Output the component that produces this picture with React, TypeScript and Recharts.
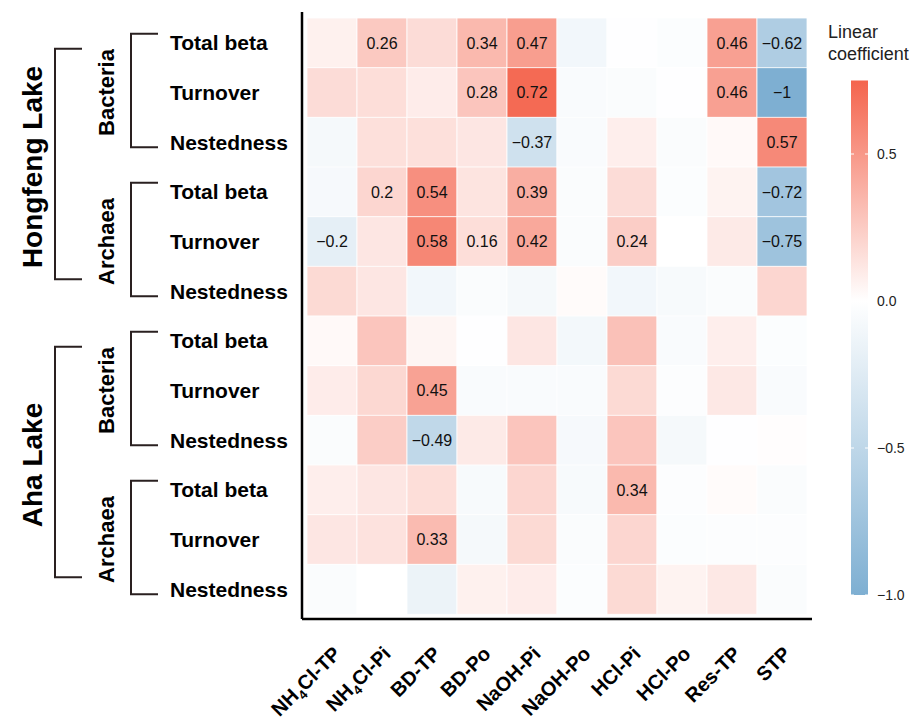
import React from 'react';
import { BarChart, Bar, XAxis, YAxis, Cell, LabelList } from 'recharts';

const columns = ['NH4Cl-TP', 'NH4Cl-Pi', 'BD-TP', 'BD-Po', 'NaOH-Pi', 'NaOH-Po', 'HCl-Pi', 'HCl-Po', 'Res-TP', 'STP'];
const rowIds = ['r0', 'r1', 'r2', 'r3', 'r4', 'r5', 'r6', 'r7', 'r8', 'r9', 'r10', 'r11'];
const rowLabels = ['Total beta', 'Turnover', 'Nestedness'];
const taxa = ['Bacteria', 'Archaea'];
const lakes = ['Hongfeng Lake', 'Aha Lake'];

const hongfengBacteria = [
    [0.07, 0.26, 0.17, 0.34, 0.47, -0.1, -0.01, -0.03, 0.46, -0.62],
    [0.17, 0.16, 0.09, 0.28, 0.72, -0.05, -0.04, -0.01, 0.46, -1],
    [-0.08, 0.15, 0.15, 0.12, -0.37, -0.05, 0.08, -0.04, 0.03, 0.57],
];
const hongfengArchaea = [
    [-0.07, 0.2, 0.54, 0.13, 0.39, -0.04, 0.17, -0.03, 0.06, -0.72],
    [-0.2, 0.12, 0.58, 0.16, 0.42, -0.04, 0.24, 0, 0.1, -0.75],
    [0.18, 0.12, -0.1, -0.04, -0.08, 0.02, -0.1, -0.06, -0.04, 0.2],
];
const ahaBacteria = [
    [0.03, 0.28, 0.05, -0.01, 0.12, -0.09, 0.3, -0.05, 0.08, -0.03],
    [0.09, 0.19, 0.45, -0.05, -0.05, -0.05, 0.18, -0.02, 0.11, -0.05],
    [-0.04, 0.24, -0.49, 0.1, 0.28, -0.07, 0.28, -0.08, -0.01, 0.01],
];
const ahaArchaea = [
    [0.08, 0.12, 0.16, -0.06, 0.2, -0.06, 0.34, -0.02, 0.02, -0.04],
    [0.12, 0.14, 0.33, -0.08, 0.18, -0.04, 0.2, -0.03, -0.02, -0.02],
    [-0.04, 0, -0.15, 0.07, 0.09, -0.03, 0.18, 0.06, 0.11, -0.04],
];

// 1 = coefficient printed in the cell
const significant = [
    [0, 1, 0, 1, 1, 0, 0, 0, 1, 1],
    [0, 0, 0, 1, 1, 0, 0, 0, 1, 1],
    [0, 0, 0, 0, 1, 0, 0, 0, 0, 1],
    [0, 1, 1, 0, 1, 0, 0, 0, 0, 1],
    [1, 0, 1, 1, 1, 0, 1, 0, 0, 1],
    [0, 0, 0, 0, 0, 0, 0, 0, 0, 0],
    [0, 0, 0, 0, 0, 0, 0, 0, 0, 0],
    [0, 0, 1, 0, 0, 0, 0, 0, 0, 0],
    [0, 0, 1, 0, 0, 0, 0, 0, 0, 0],
    [0, 0, 0, 0, 0, 0, 1, 0, 0, 0],
    [0, 0, 1, 0, 0, 0, 0, 0, 0, 0],
    [0, 0, 0, 0, 0, 0, 0, 0, 0, 0],
];

const legendTicks = [0.5, 0, -0.5, -1];
const legendTickLabels = ['0.5', '0.0', '\u22120.5', '\u22121.0'];
const legendLimits = [-1, 0.75];

const coef = [...hongfengBacteria, ...hongfengArchaea, ...ahaBacteria, ...ahaArchaea];
const vMax = Math.max(...coef.flat());
const vMin = Math.min(...coef.flat());

const HIGH = [244, 106, 84];
const LOW = [126, 175, 210];
const mix = (c: number[], t: number) =>
    `rgb(${c.map((k) => Math.max(0, Math.min(255, Math.round(255 + (k - 255) * t)))).join(',')})`;
const colorFor = (v: number) => (v >= 0 ? mix(HIGH, v / vMax) : mix(LOW, -v / -vMin));
const fmt = (v: number) => String(v).replace('-', '\u2212');

const table = rowIds.map((id) => {
    const row: Record<string, any> = { id };
    columns.forEach((_, c) => (row['c' + c] = 1));
    return row;
});

const FONT = '"Liberation Sans", Arial, sans-serif';
const W = 919;
const H = 725;
const MARGIN = { top: 12, right: 107, bottom: 6, left: 0 };
const PAD = { top: 6, bottom: 5 };
const STEP = (H - MARGIN.top - MARGIN.bottom - 100 - PAD.top - PAD.bottom) / rowIds.length;
const INK = '#2a2020';

const RowTick = (props: any) => {
    const { x, y, index } = props;
    const parts: React.ReactNode[] = [];
    parts.push(
        <text key="t" x={x - 132} y={y} dy="0.36em" textAnchor="start" fontSize={21} fontWeight="bold" fill="#000" fontFamily={FONT}>
            {rowLabels[index % 3]}
        </text>
    );
    if (index % 3 === 0) {
        const top = y - 9;
        const bot = y + 2 * STEP + 5;
        parts.push(
            <path key="b" d={`M${x - 144},${top}H${x - 171}V${bot}H${x - 144}`} fill="none" stroke={INK} strokeWidth={2} />,
            <text key="g" transform={`translate(${x - 196},${y + STEP}) rotate(-90)`} textAnchor="middle" dy="0.36em" fontSize={22} fontWeight="bold" fill="#000" fontFamily={FONT}>
                {taxa[Math.floor(index / 3) % 2]}
            </text>
        );
    }
    if (index % 6 === 0) {
        const top = y + 6;
        const bot = y + 5 * STEP - 12;
        parts.push(
            <path key="o" d={`M${x - 220},${top}H${x - 247}V${bot}H${x - 220}`} fill="none" stroke={INK} strokeWidth={2} />,
            <text key="l" transform={`translate(${x - 270},${y + 2.5 * STEP}) rotate(-90)`} textAnchor="middle" dy="0.36em" fontSize={28} fontWeight="bold" fill="#000" fontFamily={FONT}>
                {lakes[Math.floor(index / 6)]}
            </text>
        );
    }
    return <g>{parts}</g>;
};

const ColTick = (props: any) => {
    const { x, y, payload } = props;
    const name = columns[Math.round(payload.value - 0.5)] || '';
    const ax = x + 10;
    const ay = y + 28;
    const sub = name.startsWith('NH4');
    return (
        <text x={ax} y={ay} textAnchor="end" transform={`rotate(-45, ${ax}, ${ay})`} fontSize={20} fontWeight="bold" fill="#000" fontFamily={FONT}>
            {sub ? (
                <>
                    NH
                    <tspan fontSize={13} dy={5}>4</tspan>
                    <tspan dy={-5}>{name.slice(3)}</tspan>
                </>
            ) : (
                name
            )}
        </text>
    );
};

const cellLabel = (c: number) => (props: any) => {
    const { x, y, width, height, index } = props;
    if (!significant[index][c]) return null;
    return (
        <text x={x + width / 2} y={y + height / 2} dy="0.36em" textAnchor="middle" fontSize={16} fill="#111" fontFamily={FONT}>
            {fmt(coef[index][c])}
        </text>
    );
};

const ColorBar = () => {
    const zeroY = 301;
    const k = 294;
    const [lo, hi] = legendLimits;
    const top = zeroY - hi * k;
    const bot = zeroY - lo * k;
    const x0 = 851;
    const bw = 17;
    const zeroOff = hi / (hi - lo);
    return (
        <svg width={W} height={H} style={{ position: 'absolute', left: 0, top: 0, pointerEvents: 'none' }}>
            <defs>
                <linearGradient id="cbar" x1="0" y1="0" x2="0" y2="1">
                    <stop offset="0" stopColor={colorFor(hi)} />
                    <stop offset={zeroOff} stopColor="#ffffff" />
                    <stop offset="1" stopColor={colorFor(lo)} />
                </linearGradient>
            </defs>
            <text x={828} y={38} fontSize={18} fill="#222" fontFamily={FONT}>Linear</text>
            <text x={828} y={60} fontSize={18} fill="#222" fontFamily={FONT}>coefficient</text>
            <rect x={x0} y={top} width={bw} height={bot - top} fill="url(#cbar)" />
            {legendTicks.map((t, i) => {
                const ty = zeroY - t * k;
                return (
                    <g key={t}>
                        <line x1={x0} x2={x0 + 3} y1={ty} y2={ty} stroke="#fff" strokeWidth={1} />
                        <line x1={x0 + bw - 3} x2={x0 + bw} y1={ty} y2={ty} stroke="#fff" strokeWidth={1} />
                        <text x={877} y={ty} dy="0.36em" fontSize={14} fill="#222" fontFamily={FONT}>
                            {legendTickLabels[i]}
                        </text>
                    </g>
                );
            })}
        </svg>
    );
};

export default function App() {
    return (
        <div style={{ position: 'absolute', left: 0, top: 0, width: W, height: H, background: '#fff', fontFamily: FONT }}>
            <BarChart width={W} height={H} data={table} layout="vertical" margin={MARGIN} barCategoryGap={0}>
                <XAxis
                    type="number"
                    domain={[-0.1, columns.length + 0.1]}
                    ticks={columns.map((_, i) => i + 0.5)}
                    interval={0}
                    allowDataOverflow
                    height={100}
                    tickLine={false}
                    axisLine={{ stroke: '#000', strokeWidth: 2.5 }}
                    tick={<ColTick />}
                />
                <YAxis
                    type="category"
                    dataKey="id"
                    width={302}
                    padding={PAD}
                    tickLine={false}
                    tickSize={0}
                    tickMargin={0}
                    interval={0}
                    axisLine={{ stroke: '#000', strokeWidth: 2.5 }}
                    tick={<RowTick />}
                />
                {columns.map((col, c) => (
                    <Bar key={col} dataKey={'c' + c} stackId="cells" isAnimationActive={false}>
                        {rowIds.map((id, r) => (
                            <Cell key={id} fill={colorFor(coef[r][c])} stroke="#ffffff" strokeWidth={0.8} />
                        ))}
                        <LabelList dataKey={'c' + c} content={cellLabel(c)} />
                    </Bar>
                ))}
            </BarChart>
            <ColorBar />
        </div>
    );
}
